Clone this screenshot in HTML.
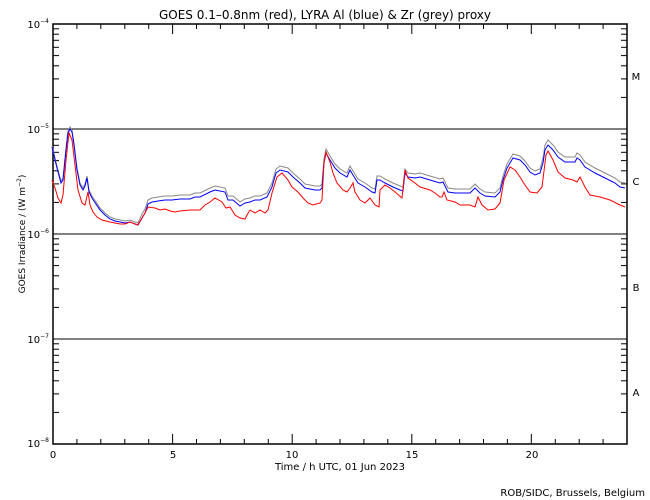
<!DOCTYPE html>
<html><head><style>
body{margin:0;background:#fff;}
svg{display:block;font-family:"DejaVu Sans","Liberation Sans",sans-serif;}
</style></head><body>
<svg id="s" width="650" height="500" viewBox="0 0 650 500" xmlns="http://www.w3.org/2000/svg">
<rect width="650" height="500" fill="#fff"/>
<text x="325" y="19" font-size="12" text-anchor="middle">GOES 0.1–0.8nm (red), LYRA Al (blue) &amp; Zr (grey) proxy</text>
<g id="ax" stroke="#000" stroke-width="1" fill="none"></g>
<g font-size="10" text-anchor="end">
<text x="49" y="28">10<tspan font-size="6" dy="-5">−4</tspan></text>
<text x="49" y="133">10<tspan font-size="6" dy="-5">−5</tspan></text>
<text x="49" y="238">10<tspan font-size="6" dy="-5">−6</tspan></text>
<text x="49" y="343">10<tspan font-size="6" dy="-5">−7</tspan></text>
<text x="49" y="447">10<tspan font-size="6" dy="-5">−8</tspan></text>
</g>
<g font-size="10" text-anchor="middle">
<text x="636" y="80">M</text><text x="636" y="185">C</text><text x="636" y="291">B</text><text x="636" y="396">A</text>
<text x="53" y="458">0</text><text x="173" y="458">5</text><text x="292" y="458">10</text><text x="412" y="458">15</text><text x="532" y="458">20</text>
<text x="340" y="470">Time / h UTC, 01 Jun 2023</text>
<text x="25" y="234" transform="rotate(-90 25 234)" font-size="9">GOES Irradiance / (W m<tspan font-size="6" dy="-4">−2</tspan><tspan dy="4">)</tspan></text>
</g>
<text x="645" y="496" font-size="10" text-anchor="end">ROB/SIDC, Brussels, Belgium</text>
<g id="dat" fill="none" stroke-width="1"></g>
</svg>
<script>
var ax=document.getElementById('ax'),L=53,R=627,T=24,B=444,D=105;
var h='<rect x="'+L+'" y="'+T+'" width="'+(R-L)+'" height="'+(B-T)+'" stroke-width="1.5"/>';
for(var d=1;d<4;d++){var y=T+d*D;h+='<line x1="'+L+'" x2="'+R+'" y1="'+y+'" y2="'+y+'"/>';}
for(d=0;d<4;d++){for(var k=2;k<10;k++){var y=T+(d+1)*D-D*Math.log10(k);y=y.toFixed(1);
h+='<line x1="'+L+'" x2="'+(L+6)+'" y1="'+y+'" y2="'+y+'"/><line x1="'+(R-6)+'" x2="'+R+'" y1="'+y+'" y2="'+y+'"/>';}}
for(var i=1;i<24;i++){var x=(L+i*(R-L)/24).toFixed(1),l=i%5==0?10:5;
h+='<line x1="'+x+'" x2="'+x+'" y1="'+B+'" y2="'+(B-l)+'"/><line x1="'+x+'" x2="'+x+'" y1="'+T+'" y2="'+(T+l)+'"/>';}
ax.innerHTML=h;
var blue=[52,147,55,160,58,172,61,183,63,180,66,150,68,133,70,129,72,132,74,145,77,170,80,185,83,190,85,186,87,178,89,192,92,198,96,204,100,210,105,215,110,219,115,221,120,222,125,223,130,222,135,224,138,225,142,218,145,213,148,204,152,202,158,201,165,200,172,200,180,199,190,199,195,197,200,197,210,192,215,190,225,192,228,200,233,200,240,206,245,203,250,202,255,200,260,200,267,197,272,187,276,173,280,170,288,172,293,177,300,183,305,188,315,190,320,190,322,188,324,163,326,153,330,160,335,168,340,173,347,177,350,170,353,175,358,183,365,187,372,192,375,193,377,180,380,180,385,183,393,187,400,190,403,191,405,173,408,177,415,178,420,177,430,180,440,183,443,182,448,192,455,193,460,193,470,193,475,188,480,193,485,196,495,197,500,192,503,180,507,168,513,158,520,160,525,165,530,172,535,175,540,173,543,163,545,150,548,145,553,150,558,157,565,162,575,162,577,158,580,160,585,167,595,173,605,178,615,183,620,187,625,188];
var red=[52,180,55,188,58,198,61,203,63,195,66,160,69,133,72,140,75,165,78,190,82,203,85,205,88,192,90,205,93,212,97,217,102,220,110,222,120,224,125,224,130,222,135,224,138,225,142,218,145,213,148,207,155,208,160,210,165,209,170,211,175,212,180,211,190,210,197,210,200,210,205,205,210,202,215,198,222,202,226,208,230,207,235,215,240,218,245,219,247,215,250,210,255,213,260,210,265,213,268,210,272,193,277,177,282,173,288,180,292,187,298,192,303,198,308,203,313,205,320,203,322,200,324,163,326,152,330,162,333,173,337,183,343,190,347,192,350,188,353,183,355,192,360,200,365,203,370,198,375,205,379,207,380,190,385,185,390,188,395,192,402,198,405,170,408,178,415,183,420,187,430,190,435,193,440,197,442,197,444,192,447,200,455,202,460,205,470,205,475,207,478,197,482,205,488,210,495,209,500,203,504,180,510,167,515,170,520,177,525,185,530,192,537,193,542,187,546,155,548,151,553,160,558,172,565,178,573,180,577,182,580,177,585,187,590,195,600,197,610,200,620,205,625,207];
function pts(a,dy){var s='';for(var i=0;i<a.length;i+=2){var o=dy?(a[i]<140?-2:(a[i]>540?-5:-4)):0;s+=a[i]+','+(a[i+1]+o)+' ';}return s;}
document.getElementById('dat').innerHTML='<polyline stroke="#888" points="'+pts(blue,1)+'"/><polyline stroke="#00f" points="'+pts(blue,0)+'"/><polyline stroke="#f00" points="'+pts(red,0)+'"/>';
</script>
</body></html>
